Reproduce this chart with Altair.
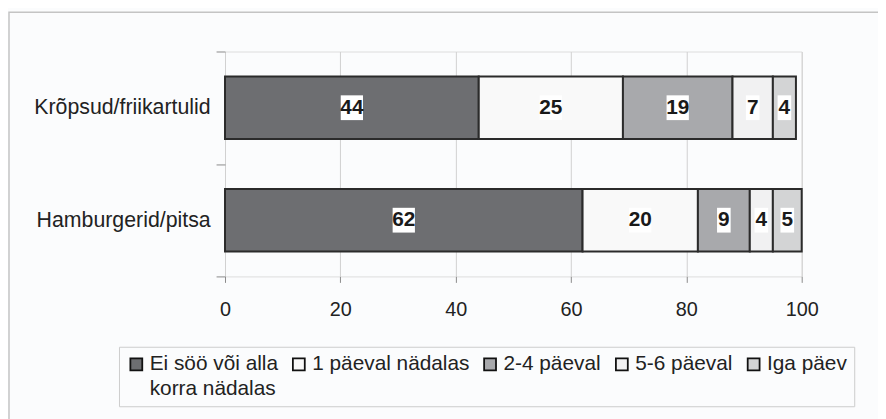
import altair as alt
import pandas as pd

categories = ["Krõpsud/friikartulid", "Hamburgerid/pitsa"]
series = ["Ei söö või alla korra nädalas", "1 päeval nädalas", "2-4 päeval", "5-6 päeval", "Iga päev"]
kropsud_values = [44, 25, 19, 7, 4]
hamburger_values = [62, 20, 9, 4, 5]
colors = ["#6d6e71", "#f9f9f9", "#a8a9ac", "#f1f1f2", "#d3d4d5"]
x_ticks = [0, 20, 40, 60, 80, 100]

rows = []
for cat, vals in zip(categories, [kropsud_values, hamburger_values]):
    for i, (s, v) in enumerate(zip(series, vals)):
        rows.append({"cat": cat, "series": s, "value": v, "order": i})
df = pd.DataFrame(rows)

FONT = "Liberation Sans"

base = alt.Chart(df).transform_stack(
    stack="value", groupby=["cat"], as_=["x0", "x1"],
    sort=[alt.SortField("order", "ascending")]
).transform_calculate(mid="(datum.x0 + datum.x1) / 2")

y_enc = alt.Y(
    "cat:N", sort=categories,
    scale=alt.Scale(paddingInner=0, paddingOuter=0),
    axis=alt.Axis(title=None, domain=False, ticks=True, tickBand="extent", tickSize=9,
                  tickColor="#8a8a8a", tickWidth=1, labelFontSize=21.5, labelColor="#222222",
                  labelPadding=6, grid=False, labelFont=FONT),
)
x_enc = alt.X(
    "x0:Q", scale=alt.Scale(domain=[0, 100], nice=False),
    axis=alt.Axis(values=x_ticks, title=None, domain=False, tickSize=6, tickColor="#8a8a8a",
                  grid=True, gridColor="#d0d0d0", gridWidth=1, labelFontSize=20,
                  labelPadding=17, labelColor="#222222", labelFont=FONT, labelFlush=False),
)

legend_label = ("datum.label == 'Ei söö või alla korra nädalas' ? "
                "['Ei söö või alla', 'korra nädalas'] : [datum.label, ' ']")

bars = base.mark_bar(stroke="#2b2b2b", strokeWidth=2, size=63).encode(
    y=y_enc, x=x_enc, x2="x1:Q",
    color=alt.Color(
        "series:N", scale=alt.Scale(domain=series, range=colors),
        legend=alt.Legend(
            title=None, orient="none", legendX=-107, legendY=298, direction="horizontal",
            columns=5, symbolType="square", symbolSize=144, symbolStrokeColor="#111111",
            symbolStrokeWidth=1.8, labelFontSize=21, labelColor="#222222", labelFont=FONT,
            labelExpr=legend_label, strokeColor="#cccccc", padding=7, columnPadding=10,
            labelOffset=3, labelLimit=400, fillColor="#fbfcfd",
        ),
    ),
)

box_wide = base.transform_filter("datum.value >= 10").mark_point(
    shape="M-0.9,-1H0.9V1H-0.9Z", size=625, filled=True, color="#ffffff", opacity=1, strokeWidth=0
).encode(y=alt.Y("cat:N", sort=categories), x=alt.X("mid:Q"))

box_narrow = base.transform_filter("datum.value < 10").mark_point(
    shape="M-0.55,-1H0.55V1H-0.55Z", size=625, filled=True, color="#ffffff", opacity=1, strokeWidth=0
).encode(y=alt.Y("cat:N", sort=categories), x=alt.X("mid:Q"))

labels = base.mark_text(fontWeight="bold", fontSize=21, color="#1a1a1a", font=FONT).encode(
    y=alt.Y("cat:N", sort=categories), x=alt.X("mid:Q"), text="value:Q"
)

frame = alt.Chart(pd.DataFrame({"a": [0]})).mark_rect(
    fillOpacity=0, stroke="#c4c4c4", strokeWidth=1.5
).encode(x=alt.value(-218), x2=alt.value(700), y=alt.value(-39.5), y2=alt.value(420))

chart = alt.layer(frame, bars, box_wide, box_narrow, labels).properties(
    width=582, height=227,
    padding={"left": 219, "top": 42, "right": 77, "bottom": 142},
    autosize=alt.AutoSizeParams(type="none"),
    background="#fbfcfd",
).configure_view(
    stroke="#8a8a8a", strokeWidth=2
).configure(
    style={"guide-label": {"lineHeight": 25}}
)

chart.save("out.html", embed_options={"renderer": "svg", "actions": False})
